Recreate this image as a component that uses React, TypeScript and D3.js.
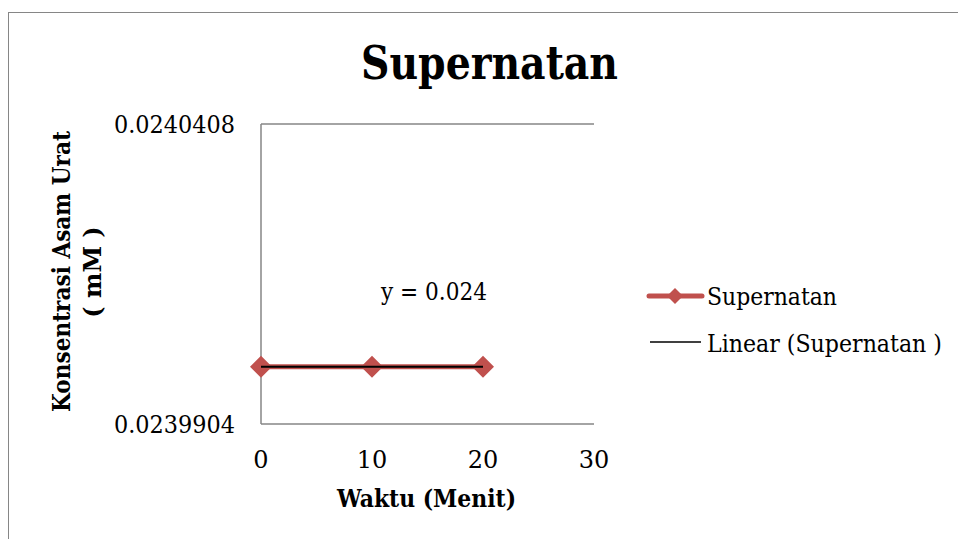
import * as d3 from "d3";

const minutes = [0, 10, 20];
const concentration = [0.024, 0.024, 0.024];
const xTicks = [0, 10, 20, 30];
const yTicks = [0.0239904, 0.0240408];
const yTickLabels = ["0.0239904", "0.0240408"];

const W = 958;
const H = 539;
const FONT = "'DejaVu Serif', 'Liberation Serif', serif";
const RED = "#C0504D";
const AXIS = "#868686";

export default function App() {
  const x = d3.scaleLinear().domain([0, 30]).range([261, 594]);
  const y = d3.scaleLinear().domain([yTicks[0], yTicks[1]]).range([424, 124]);

  const pts = minutes.map((m, i) => ({ m, v: concentration[i] }));
  const line = d3
    .line<{ m: number; v: number }>()
    .x((d) => x(d.m))
    .y((d) => y(d.v));

  // linear trend (least squares) over the series
  const mx = d3.mean(minutes) as number;
  const my = d3.mean(concentration) as number;
  const sxx = d3.sum(minutes, (m) => (m - mx) ** 2);
  const sxy = d3.sum(minutes, (m, i) => (m - mx) * (concentration[i] - my));
  const slope = sxx ? sxy / sxx : 0;
  const icpt = my - slope * mx;
  const trend = [minutes[0], minutes[minutes.length - 1]].map((m) => ({ m, v: icpt + slope * m }));

  const diamond = (cx: number, cy: number, r: number) =>
    `M${cx},${cy - r}L${cx + r},${cy}L${cx},${cy + r}L${cx - r},${cy}Z`;

  return (
    <div style={{ position: "absolute", left: 0, top: 0 }}>
      <svg width={W} height={H} style={{ display: "block", fontFamily: FONT }}>
        <rect x={0} y={0} width={W} height={H} fill="#fff" />
        <rect x={8.5} y={12.5} width={W + 20} height={H + 20} fill="none" stroke={AXIS} strokeWidth={1} />

        <text x={361} y={79} fontSize={46} fontWeight="bold" textLength={257} lengthAdjust="spacingAndGlyphs">
          Supernatan
        </text>

        {/* gridline at top tick */}
        <line x1={x(0)} x2={x(30)} y1={y(yTicks[1])} y2={y(yTicks[1])} stroke={AXIS} strokeWidth={1.3} />
        {/* axes */}
        <line x1={x(0)} x2={x(0)} y1={y(yTicks[1])} y2={y(yTicks[0])} stroke={AXIS} strokeWidth={1.5} />
        <line x1={x(0)} x2={x(30)} y1={y(yTicks[0])} y2={y(yTicks[0])} stroke={AXIS} strokeWidth={1.5} />

        {yTicks.map((t, i) => (
          <text key={t} x={235} y={y(t) + 9} textAnchor="end" fontSize={24} textLength={121} lengthAdjust="spacingAndGlyphs">
            {yTickLabels[i]}
          </text>
        ))}
        {xTicks.map((t) => (
          <text key={t} x={x(t)} y={468} textAnchor="middle" fontSize={24}>
            {t}
          </text>
        ))}

        <text x={337} y={507} fontSize={24} fontWeight="bold" textLength={179} lengthAdjust="spacingAndGlyphs">
          Waktu (Menit)
        </text>
        <g transform="translate(70,272) rotate(-90)" fontSize={24} fontWeight="bold">
          <text x={-140} y={0} textLength={281} lengthAdjust="spacingAndGlyphs">Konsentrasi Asam Urat</text>
          <text x={0} y={31} textAnchor="middle">( mM )</text>
        </g>

        <path d={line(pts) ?? ""} fill="none" stroke={RED} strokeWidth={5} />
        {pts.map((p) => (
          <path key={p.m} d={diamond(x(p.m), y(p.v), 11)} fill={RED} />
        ))}
        <path d={line(trend) ?? ""} fill="none" stroke="#000" strokeWidth={2} />

        <text x={381} y={300} fontSize={24} textLength={106} lengthAdjust="spacingAndGlyphs">
          y = 0.024
        </text>

        {/* legend */}
        <line x1={649} x2={702} y1={296} y2={296} stroke={RED} strokeWidth={5} strokeLinecap="round" />
        <path d={diamond(675, 296, 8)} fill={RED} />
        <text x={707} y={305} fontSize={24} textLength={130} lengthAdjust="spacingAndGlyphs">Supernatan</text>
        <line x1={650} x2={701} y1={342} y2={342} stroke="#000" strokeWidth={1.5} />
        <text x={707} y={352} fontSize={24} textLength={235} lengthAdjust="spacingAndGlyphs">Linear (Supernatan )</text>
      </svg>
    </div>
  );
}
